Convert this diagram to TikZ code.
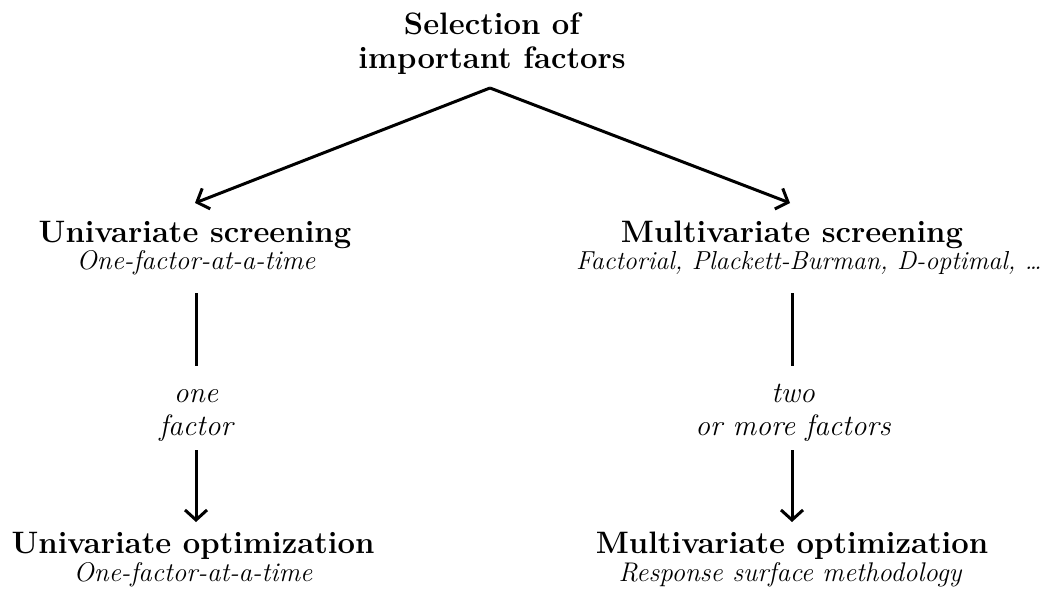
\documentclass[tikz,border=0pt]{standalone}
\usepackage{fontspec}
\usetikzlibrary{arrows.meta}
\begin{document}
\begin{tikzpicture}[x=1pt,y=-1pt,
  head/.style={font=\fontsize{31}{34}\selectfont\bfseries, align=center, inner sep=0pt, anchor=base},
  sub/.style={font=\fontsize{27}{33}\selectfont\itshape, align=center, inner sep=0pt, anchor=base},
  lbl/.style={font=\fontsize{29.5}{33}\selectfont\itshape, align=center, inner sep=0pt, anchor=base},
  link/.style={line width=3pt},
  arr/.style={line width=3pt, -{Straight Barb[length=10pt,width=22pt,line width=3pt]}}]
\useasboundingbox (0,0) rectangle (1056,596);

% top question
\node[head] (top) at (492,69) {Selection of\\important factors};

% screening level
\node[head] (uscr) at (195,242) {Univariate screening};
\node[sub]  (usub) at (196,269) {One-factor-at-a-time};
\node[head] (mscr) at (792,242) {Multivariate screening};
\node[sub]  (msub) at (809,269) {\fontsize{26}{33}\selectfont Factorial, Plackett-Burman, D-optimal, \dots};

% decision labels
\node[lbl] (ulbl) at (196,435) {one\\factor};
\node[lbl] (mlbl) at (793,435) {two\\or more factors};

% optimization level
\node[head] (uopt) at (193,553) {Univariate optimization};
\node[sub]  (uosub) at (193,581) {One-factor-at-a-time};
\node[head] (mopt) at (792,553) {Multivariate optimization};
\node[sub]  (mosub) at (790,581) {Response surface methodology};

% connector end points
\coordinate (apex) at (490,88);
\coordinate (uin)  at (195,203);
\coordinate (min)  at (790,203);
\coordinate (uout) at (196,293);
\coordinate (ustop) at (196,366);
\coordinate (ugo)  at (196,450);
\coordinate (uend) at (196,522);
\coordinate (mout) at (792,293);
\coordinate (mstop) at (792,366);
\coordinate (mgo)  at (792,450);
\coordinate (mend) at (792,522);

% connectors
\draw[arr] (apex) -- (uin);
\draw[arr] (apex) -- (min);
\draw[link] (uout) -- (ustop);
\draw[arr] (ugo) -- (uend);
\draw[link] (mout) -- (mstop);
\draw[arr] (mgo) -- (mend);
\end{tikzpicture}
\end{document}
